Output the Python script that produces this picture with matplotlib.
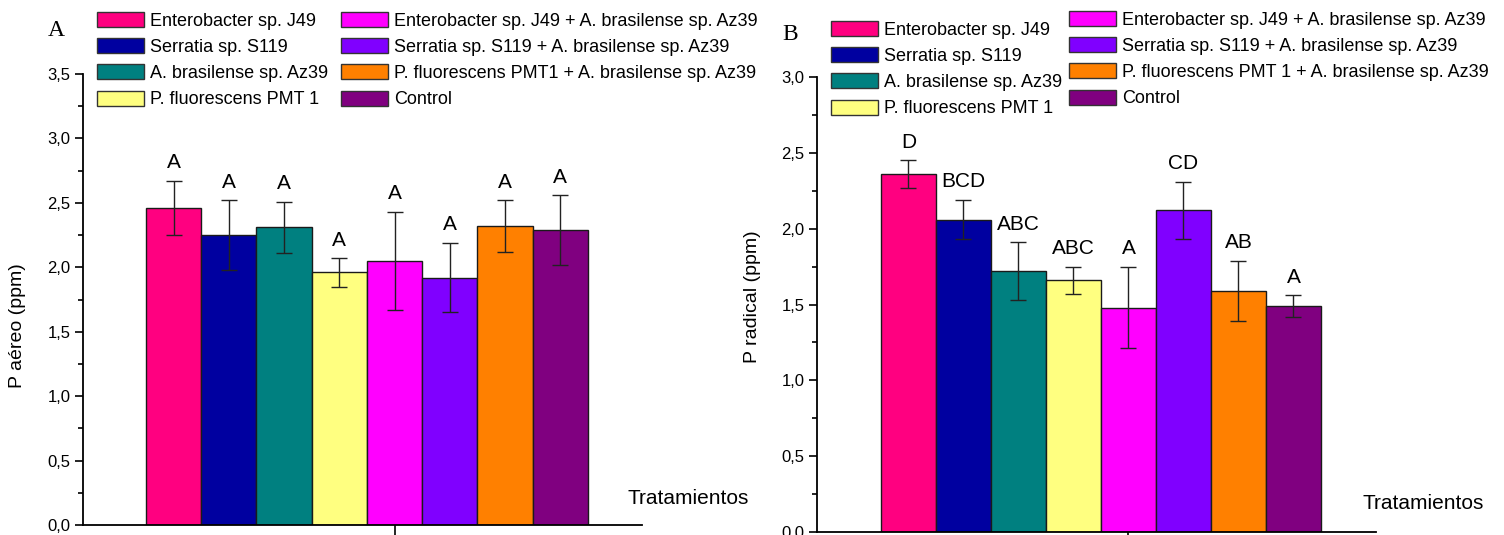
import matplotlib
matplotlib.use("Agg")
import matplotlib.pyplot as plt
from matplotlib.patches import Patch
from matplotlib.ticker import FuncFormatter, MultipleLocator, FixedLocator

plt.rcParams['font.family'] = ['Liberation Sans', 'DejaVu Sans']

# ---- data -------------------------------------------------------------
treatments = [
    "Enterobacter sp. J49",
    "Serratia sp. S119",
    "A. brasilense sp. Az39",
    "P. fluorescens PMT 1",
    "Enterobacter sp. J49 + A. brasilense sp. Az39",
    "Serratia sp. S119 + A. brasilense sp. Az39",
    "P. fluorescens PMT1 + A. brasilense sp. Az39",
    "Control",
]
treatments_b = [
    "Enterobacter sp. J49",
    "Serratia sp. S119",
    "A. brasilense sp. Az39",
    "P. fluorescens PMT 1",
    "Enterobacter sp. J49 + A. brasilense sp. Az39",
    "Serratia sp. S119 + A. brasilense sp. Az39",
    "P. fluorescens PMT 1 + A. brasilense sp. Az39",
    "Control",
]

p_aereo = [2.46, 2.25, 2.31, 1.96, 2.05, 1.92, 2.32, 2.29]
p_aereo_sd = [0.21, 0.27, 0.20, 0.11, 0.38, 0.27, 0.20, 0.27]
letters_aereo = ["A", "A", "A", "A", "A", "A", "A", "A"]

p_radical = [2.36, 2.06, 1.72, 1.66, 1.48, 2.12, 1.59, 1.49]
p_radical_sd = [0.09, 0.13, 0.19, 0.09, 0.27, 0.19, 0.20, 0.07]
letters_radical = ["D", "BCD", "ABC", "ABC", "A", "CD", "AB", "A"]

colors = ["#FF0080", "#0000A0", "#008080", "#FFFF80",
          "#FF00FF", "#8000FF", "#FF8000", "#800080"]

# ---- layout helpers ---------------------------------------------------
W, H = 1504, 535
fig = plt.figure(figsize=(W / 100, H / 100), dpi=100)


def px_axes(left, top, right, bottom):
    return fig.add_axes([left / W, 1 - bottom / H, (right - left) / W, (bottom - top) / H])


def fx(x):
    return x / W


def fy(y):
    return 1 - y / H


comma = FuncFormatter(lambda v, p: f"{v:.1f}".replace(".", ","))


def draw_panel(ax, values, sds, letters, ymax, xlim, ylabel):
    x = list(range(len(values)))
    ax.bar(x, values, width=1.0, color=colors, edgecolor="#1a1a1a", linewidth=1.0, zorder=2)
    ax.errorbar(x, values, yerr=sds, fmt="none", ecolor="#222222",
                elinewidth=1.0, capsize=6, capthick=1.0, zorder=3)
    for xi, v, s, lab in zip(x, values, sds, letters):
        ax.annotate(lab, (xi, v + s), xytext=(0, 9), textcoords="offset points",
                    ha="center", va="baseline", fontsize=15)
    ax.set_xlim(*xlim)
    ax.set_ylim(0, ymax)
    for side in ("top", "right"):
        ax.spines[side].set_visible(False)
    for side in ("left", "bottom"):
        ax.spines[side].set_linewidth(1.3)
    ax.yaxis.set_major_locator(MultipleLocator(0.5))
    ax.yaxis.set_minor_locator(MultipleLocator(0.25))
    ax.yaxis.set_major_formatter(comma)
    ax.xaxis.set_major_locator(FixedLocator([4]))
    ax.set_xticklabels([])
    ax.tick_params(axis="y", which="major", direction="out", length=6, width=1.2,
                   labelsize=12, pad=3)
    ax.tick_params(axis="y", which="minor", direction="out", length=3.5, width=1.2)
    ax.tick_params(axis="x", which="major", direction="out", length=7, width=1.2)
    ax.set_ylabel(ylabel, fontsize=14)
    ax.yaxis.label.set_va("center")


# Panel A: shoot phosphorus
axA = px_axes(83, 74, 642, 525)
draw_panel(axA, p_aereo, p_aereo_sd, letters_aereo, 3.5, (-1.64, 8.48), "P aéreo (ppm)")
axA.yaxis.set_label_coords((18 - 83) / 559, (525 - 326) / 451)
axA.text((628 - 83) / 559, (525 - 498) / 451, "Tratamientos", transform=axA.transAxes,
         ha="left", va="center", fontsize=15)

# Panel B: root phosphorus
axB = px_axes(817, 77, 1376, 532)
draw_panel(axB, p_radical, p_radical_sd, letters_radical, 3.0, (-1.66, 8.5), "P radical (ppm)")
axB.yaxis.set_label_coords((752 - 817) / 559, (532 - 297) / 455)
axB.text((1362 - 817) / 559, (532 - 503) / 455, "Tratamientos", transform=axB.transAxes,
         ha="left", va="center", fontsize=15)

# Panel letters
fig.text(fx(56), fy(31), "A", family=["Liberation Serif"], fontsize=17, ha="center", va="center")
fig.text(fx(790), fy(35), "B", family=["Liberation Serif"], fontsize=17, ha="center", va="center")


# Legends: two columns of four entries per panel
def add_legend(labels, cols, left_px, top_px):
    handles = [Patch(facecolor=c, edgecolor="#333333", linewidth=1.0) for c in cols]
    leg = fig.legend(handles, labels, loc="upper left",
                     bbox_to_anchor=(fx(left_px), fy(top_px)),
                     frameon=False, fontsize=13, borderpad=0, borderaxespad=0,
                     handlelength=2.6, handleheight=0.9, handletextpad=0.34,
                     labelspacing=0.47)
    return leg


add_legend(treatments[:4], colors[:4], 97, 12)
add_legend(treatments[4:], colors[4:], 341, 12)
add_legend(treatments_b[:4], colors[:4], 831, 21)
add_legend(treatments_b[4:], colors[4:], 1069, 11)

fig.savefig("out.png", dpi=100)
